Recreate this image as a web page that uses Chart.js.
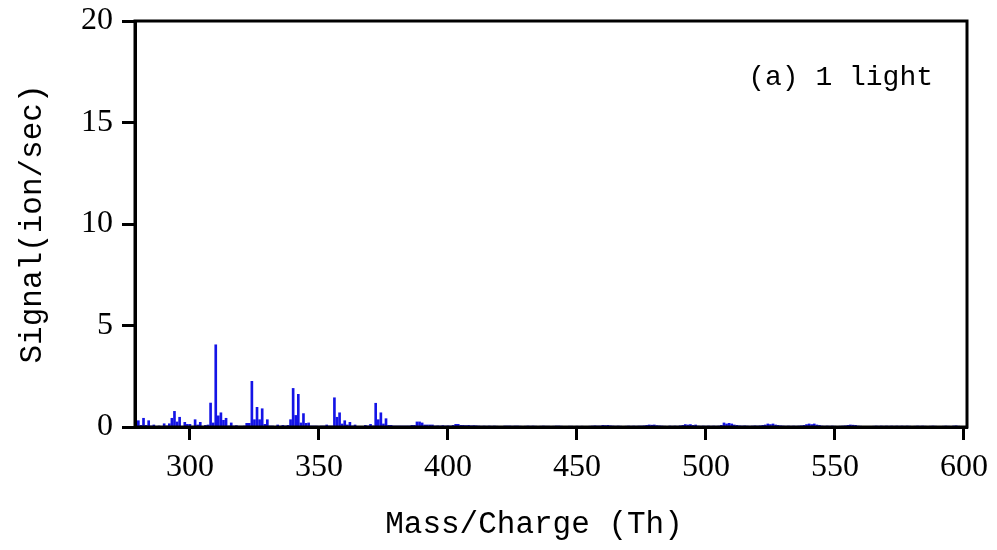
<!DOCTYPE html>
<html>
<head>
<meta charset="utf-8">
<script src="https://cdn.jsdelivr.net/npm/chart.js@4"></script>
<style>
  html, body { margin: 0; padding: 0; background: #fff; }
  #wrap { width: 997px; height: 550px; }
</style>
</head>
<body>
<div id="wrap"><canvas id="massChart" width="997" height="550"></canvas></div>
<script>
// unit-mass stick spectrum, starting at m/z 280
const startMass = 280;
const signal = [
    0.31, 0.08, 0.43, 0.08, 0.31, 0.05, 0.10, 0.03, 0.05, 0.03, // 280
    0.16, 0.05, 0.16, 0.43, 0.77, 0.25, 0.48, 0.03, 0.23, 0.13, // 290
    0.13, 0.03, 0.36, 0.10, 0.23, 0.03, 0.08, 0.10, 1.18, 0.20, // 300
    4.05, 0.55, 0.70, 0.33, 0.43, 0.05, 0.20, 0.05, 0.07, 0.04, // 310
    0.04, 0.05, 0.18, 0.18, 2.25, 0.36, 0.97, 0.36, 0.90, 0.13, // 320
    0.36, 0.05, 0.05, 0.03, 0.10, 0.04, 0.08, 0.05, 0.08, 0.36, // 330
    1.90, 0.57, 1.61, 0.20, 0.66, 0.18, 0.20, 0.05, 0.05, 0.05, // 340
    0.04, 0.05, 0.05, 0.10, 0.05, 0.05, 1.44, 0.48, 0.70, 0.15, // 350
    0.31, 0.10, 0.23, 0.05, 0.10, 0.03, 0.02, 0.03, 0.08, 0.05, // 360
    0.13, 0.05, 1.17, 0.36, 0.70, 0.15, 0.41, 0.08, 0.08, 0.05, // 370
    0.05, 0.05, 0.05, 0.05, 0.05, 0.05, 0.08, 0.08, 0.25, 0.25, // 380
    0.20, 0.10, 0.10, 0.10, 0.10, 0.05, 0.06, 0.05, 0.07, 0.05, // 390
    0.06, 0.05, 0.08, 0.13, 0.13, 0.08, 0.08, 0.07, 0.08, 0.06, // 400
    0.07, 0.06, 0.05, 0.04, 0.05, 0.04, 0.05, 0.04, 0.05, 0.04, // 410
    0.00, 0.03, 0.05, 0.05, 0.05, 0.04, 0.05, 0.05, 0.04, 0.03, // 420
    0.04, 0.05, 0.04, 0.05, 0.04, 0.03, 0.04, 0.05, 0.04, 0.04, // 430
    0.03, 0.04, 0.05, 0.05, 0.04, 0.00, 0.03, 0.04, 0.04, 0.03, // 440
    0.04, 0.03, 0.04, 0.00, 0.03, 0.04, 0.05, 0.06, 0.05, 0.05, // 450
    0.08, 0.07, 0.08, 0.06, 0.05, 0.04, 0.05, 0.04, 0.03, 0.04, // 460
    0.05, 0.04, 0.05, 0.04, 0.05, 0.05, 0.06, 0.08, 0.10, 0.09, // 470
    0.10, 0.07, 0.06, 0.05, 0.04, 0.03, 0.05, 0.04, 0.05, 0.04, // 480
    0.06, 0.08, 0.12, 0.10, 0.12, 0.08, 0.10, 0.05, 0.04, 0.05, // 490
    0.04, 0.05, 0.04, 0.05, 0.04, 0.05, 0.08, 0.20, 0.15, 0.18, // 500
    0.15, 0.10, 0.08, 0.06, 0.05, 0.06, 0.05, 0.04, 0.05, 0.06, // 510
    0.05, 0.06, 0.08, 0.10, 0.15, 0.12, 0.15, 0.10, 0.08, 0.06, // 520
    0.05, 0.04, 0.05, 0.04, 0.05, 0.04, 0.05, 0.06, 0.08, 0.12, // 530
    0.15, 0.12, 0.15, 0.10, 0.08, 0.05, 0.04, 0.05, 0.04, 0.05, // 540
    0.04, 0.03, 0.04, 0.05, 0.06, 0.08, 0.10, 0.09, 0.08, 0.05, // 550
    0.04, 0.03, 0.00, 0.00, 0.03, 0.04, 0.05, 0.04, 0.05, 0.04, // 560
    0.05, 0.04, 0.05, 0.04, 0.05, 0.04, 0.05, 0.04, 0.05, 0.04, // 570
    0.03, 0.04, 0.05, 0.04, 0.05, 0.04, 0.03, 0.04, 0.05, 0.04, // 580
    0.03, 0.00, 0.04, 0.05, 0.04, 0.03, 0.05, 0.06, 0.04, 0.03  // 590
];
const xTicks = [300, 350, 400, 450, 500, 550, 600];
const yTicks = [0, 5, 10, 15, 20];
const xTitle = 'Mass/Charge (Th)';
const yTitle = 'Signal(ion/sec)';
const panelLabel = '(a) 1 light';

const masses = signal.map((_, i) => startMass + i);

// frame round the plot, panel label, x title (sits a bit left of centre in the original)
const framePlugin = {
    id: 'frame',
    afterDatasetsDraw(chart) {
        const { ctx, chartArea: a } = chart;
        ctx.save();
        ctx.strokeStyle = '#000';
        ctx.lineWidth = 3;
        ctx.strokeRect(a.left, a.top, a.right - a.left, a.bottom - a.top);
        ctx.fillStyle = '#000';
        ctx.font = '28px "Liberation Mono"';
        ctx.textAlign = 'right';
        ctx.textBaseline = 'middle';
        ctx.fillText(panelLabel, a.right - 34, a.top + 57);
        ctx.font = '31px "Liberation Mono"';
        ctx.textAlign = 'center';
        ctx.fillText(xTitle, a.left + 399, a.bottom + 98);
        ctx.restore();
    }
};

const ctx = document.getElementById('massChart').getContext('2d');
new Chart(ctx, {
    type: 'bar',
    data: {
        datasets: [{
            data: masses.map((m, i) => ({ x: m, y: signal[i] })),
            backgroundColor: '#1414e6',
            borderWidth: 0,
            barThickness: 2
        }]
    },
    options: {
        responsive: false,
        animation: false,
        layout: { padding: { top: 21, right: 30, left: 0, bottom: 0 } },
        plugins: { legend: { display: false }, tooltip: { enabled: false } },
        scales: {
            x: {
                type: 'linear',
                min: 278.7,
                max: 601.2,
                offset: false,
                afterBuildTicks: s => { s.ticks = xTicks.map(v => ({ value: v })); },
                afterFit: s => { s.height = 123; s.paddingLeft = 0; s.paddingRight = 0; },
                border: { display: true, color: '#000', width: 3 },
                grid: { offset: false, drawOnChartArea: false, drawTicks: true, tickLength: 13, tickWidth: 3, tickColor: '#000' },
                ticks: { color: '#000', padding: 8, maxRotation: 0, font: { family: '"Liberation Serif"', size: 32 } }
            },
            y: {
                min: 0,
                max: 20,
                afterBuildTicks: s => { s.ticks = yTicks.map(v => ({ value: v })); },
                afterFit: s => { s.width = 135; s.paddingTop = 0; s.paddingBottom = 0; },
                border: { display: true, color: '#000', width: 3 },
                grid: { offset: false, drawOnChartArea: false, drawTicks: true, tickLength: 13, tickWidth: 3, tickColor: '#000' },
                ticks: { color: '#000', padding: 9, font: { family: '"Liberation Serif"', size: 32 } },
                title: { display: true, text: yTitle, color: '#000', padding: { top: 14, bottom: 4 },
                         font: { family: '"Liberation Mono"', size: 31 } }
            }
        }
    },
    plugins: [framePlugin]
});
</script>
</body>
</html>
